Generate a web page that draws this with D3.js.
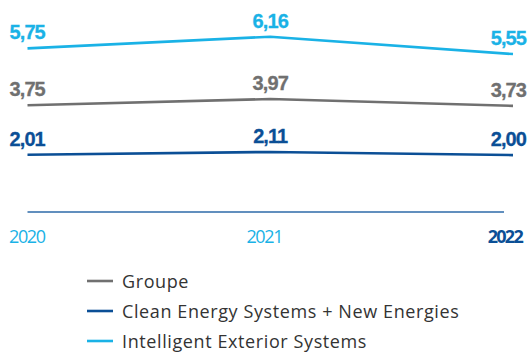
<!DOCTYPE html>
<html>
<head>
<meta charset="utf-8">
<script src="https://cdn.jsdelivr.net/npm/d3@7"></script>
<style>
  html, body { margin: 0; padding: 0; background: #fff; }
  svg { display: block; }
</style>
</head>
<body>
<svg id="chart" width="531" height="355"></svg>
<script>
// Years on the horizontal axis
const years = ["2020", "2021", "2022"];

// One series per business line
const seriesNames = ["Groupe", "Clean Energy Systems + New Energies", "Intelligent Exterior Systems"];
const groupe = [3.75, 3.97, 3.73];
const cleanEnergy = [2.01, 2.11, 2.00];
const exteriorSystems = [5.75, 6.16, 5.55];

const colors = ["#707070", "#0b4f96", "#1ab2e6"];

const series = [
  { name: seriesNames[0], values: groupe, color: colors[0] },
  { name: seriesNames[1], values: cleanEnergy, color: colors[1] },
  { name: seriesNames[2], values: exteriorSystems, color: colors[2] }
];

const svg = d3.select("#chart");

const x = d3.scalePoint().domain(years).range([27.5, 513]);
const y = d3.scaleLinear().domain([0, 6.16]).range([212, 36.7]);

const fmt = v => d3.format(".2f")(v).replace(".", ",");

// Baseline at zero
svg.append("line")
  .attr("x1", x(years[0]))
  .attr("x2", x(years[years.length - 1]) - 9)
  .attr("y1", y(0))
  .attr("y2", y(0))
  .attr("stroke", "#2d6aa8")
  .attr("stroke-width", 1.6);

// Year labels
const tickAnchor = ["start", "middle", "end"];
const tickShift = [-18.5, -6, 9];
svg.append("g")
  .selectAll("text")
  .data(years)
  .join("text")
  .attr("x", (d, i) => x(d) + tickShift[i])
  .attr("y", y(0) + 31)
  .attr("text-anchor", (d, i) => tickAnchor[i])
  .attr("font-family", "'Open Sans', sans-serif")
  .attr("font-size", 18)
  .attr("font-weight", (d, i) => i === years.length - 1 ? 700 : 400)
  .attr("letter-spacing", (d, i) => i === years.length - 1 ? -1.7 : -1.4)
  .attr("fill", (d, i) => i === years.length - 1 ? "#0b4f96" : "#1ab2e6")
  .text(d => d);

// Lines
const line = d3.line()
  .x((d, i) => x(years[i]))
  .y(d => y(d));

svg.append("g")
  .selectAll("path")
  .data(series)
  .join("path")
  .attr("d", s => line(s.values))
  .attr("fill", "none")
  .attr("stroke", s => s.color)
  .attr("stroke-width", 2.6);

// Value labels
const labelAnchor = ["start", "middle", "end"];
const labelShift = [-18, 0, 13];
series.forEach(s => {
  svg.append("g")
    .selectAll("text")
    .data(s.values)
    .join("text")
    .attr("x", (d, i) => x(years[i]) + labelShift[i])
    .attr("y", d => y(d) - 9)
    .attr("text-anchor", (d, i) => labelAnchor[i])
    .attr("font-family", "'Liberation Sans', Arial, sans-serif")
    .attr("font-size", 20)
    .attr("font-weight", 700)
    .attr("letter-spacing", -0.9)
    .attr("fill", s.color)
    .attr("stroke", s.color)
    .attr("stroke-width", 0.3)
    .text(d => fmt(d));
});

// Legend
const legend = svg.append("g")
  .selectAll("g")
  .data(series)
  .join("g")
  .attr("transform", (d, i) => `translate(87, ${281 + i * 30})`);

legend.append("line")
  .attr("x1", 0).attr("x2", 26)
  .attr("stroke", d => d.color)
  .attr("stroke-width", 2.6);

legend.append("text")
  .attr("x", 35)
  .attr("y", 6.5)
  .attr("font-family", "'Open Sans', sans-serif")
  .attr("font-size", 18)
  .attr("letter-spacing", 0.6)
  .attr("fill", "#333")
  .text(d => d.name);
</script>
</body>
</html>
